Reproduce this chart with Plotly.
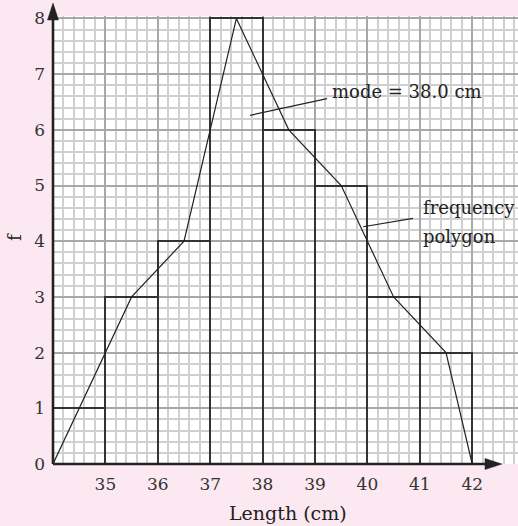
import plotly.graph_objects as go

# Data
class_lower = [34, 35, 36, 37, 38, 39, 40, 41]
frequencies = [1, 3, 4, 8, 6, 5, 3, 2]
x_tick_vals = [35, 36, 37, 38, 39, 40, 41, 42]
y_tick_vals = [0, 1, 2, 3, 4, 5, 6, 7, 8]

mids = [c + 0.5 for c in class_lower]
poly_x = [class_lower[0]] + mids + [class_lower[-1] + 1]
poly_y = [0] + frequencies + [0]

FONT = "DejaVu Serif"
INK = "#222222"
BG = "#FCE8F0"

fig = go.Figure()

fig.add_trace(go.Bar(
    x=mids, y=frequencies, width=1,
    marker=dict(color="rgba(0,0,0,0)", line=dict(color="#333333", width=2)),
    hoverinfo="skip", showlegend=False,
))

fig.add_trace(go.Scatter(
    x=poly_x, y=poly_y, mode="lines",
    line=dict(color=INK, width=1.2), showlegend=False, hoverinfo="skip",
))

# leader lines
fig.add_trace(go.Scatter(x=[37.76, 39.23], y=[6.26, 6.56], mode="lines",
                         line=dict(color=INK, width=1.2), showlegend=False, hoverinfo="skip"))
fig.add_trace(go.Scatter(x=[39.92, 40.87], y=[4.26, 4.41], mode="lines",
                         line=dict(color=INK, width=1.2), showlegend=False, hoverinfo="skip"))

X0, X1 = 34, 34 + 465 / 52.4
Y0, Y1 = 0, 448 / 55.7

fig.update_layout(
    width=518, height=526,
    margin=dict(l=53, r=0, t=16, b=62),
    paper_bgcolor=BG, plot_bgcolor="white",
    bargap=0,
    xaxis=dict(
        range=[X0, X1], tickmode="array", tickvals=x_tick_vals,
        ticktext=[str(v) for v in x_tick_vals], automargin=False,
        showgrid=True, gridcolor="#a8a8a8", gridwidth=2.2,
        minor=dict(tickmode="linear", tick0=34, dtick=0.2, showgrid=True,
                   gridcolor="#d0d0d0", gridwidth=1.5),
        zeroline=False, showline=False, ticks="", ticklabelstandoff=8,
        tickfont=dict(family=FONT, size=17, color="#333333"),
    ),
    yaxis=dict(
        range=[Y0, Y1], tickmode="array", tickvals=y_tick_vals, automargin=False,
        showgrid=True, gridcolor="#a8a8a8", gridwidth=2.2,
        minor=dict(tickmode="linear", tick0=0, dtick=0.2, showgrid=True,
                   gridcolor="#d0d0d0", gridwidth=1.5),
        zeroline=False, showline=False, ticks="", ticklabelstandoff=7,
        tickfont=dict(family=FONT, size=17, color="#333333"),
    ),
    font=dict(family=FONT, color="#333333"),
)

# axes lines with arrowheads (paper coordinates)
px_x = 1 / 465
px_y = 1 / 448
fig.add_shape(type="line", xref="paper", yref="paper", x0=0, x1=0, y0=0, y1=1 + 8 * px_y,
              line=dict(color=INK, width=2.6))
fig.add_shape(type="path", xref="paper", yref="paper",
              path=f"M {-5.5*px_x} {1-4*px_y} L {5.5*px_x} {1-4*px_y} L 0 {1+13*px_y} Z",
              fillcolor=INK, line=dict(color=INK, width=0.5))
fig.add_shape(type="line", xref="paper", yref="paper", x0=0, x1=(492 - 53) * px_x, y0=0, y1=0,
              line=dict(color=INK, width=2.6))
fig.add_shape(type="path", xref="paper", yref="paper",
              path=f"M {(485-53)*px_x} {5.5*px_y} L {(485-53)*px_x} {-5.5*px_y} L {(502-53)*px_x} 0 Z",
              fillcolor=INK, line=dict(color=INK, width=0.5))

ann_font = dict(family=FONT, size=18, color="#222222")
fig.add_annotation(x=39.29, y=6.68, text="mode = 38.0 cm", showarrow=False,
                   xanchor="left", yanchor="middle", font=ann_font)
fig.add_annotation(x=41.02, y=4.61, text="frequency", showarrow=False,
                   xanchor="left", yanchor="middle", font=ann_font)
fig.add_annotation(x=41.02, y=4.08, text="polygon", showarrow=False,
                   xanchor="left", yanchor="middle", font=ann_font)

# axis titles
fig.add_annotation(xref="paper", yref="paper", x=(288 - 53) * px_x, y=-(513 - 464) * px_y,
                   text="Length (cm)", showarrow=False, xanchor="center", yanchor="middle",
                   font=dict(family=FONT, size=19, color="#222222"))
fig.add_annotation(xref="paper", yref="paper", x=-(53 - 14) * px_x, y=(464 - 237) * px_y,
                   text="f", showarrow=False, textangle=-90, xanchor="center", yanchor="middle",
                   font=dict(family=FONT, size=18, color="#222222"))

fig.write_html("out.html", config={"displayModeBar": False},
               post_script="document.body.style.margin='0';document.body.style.padding='0';")
